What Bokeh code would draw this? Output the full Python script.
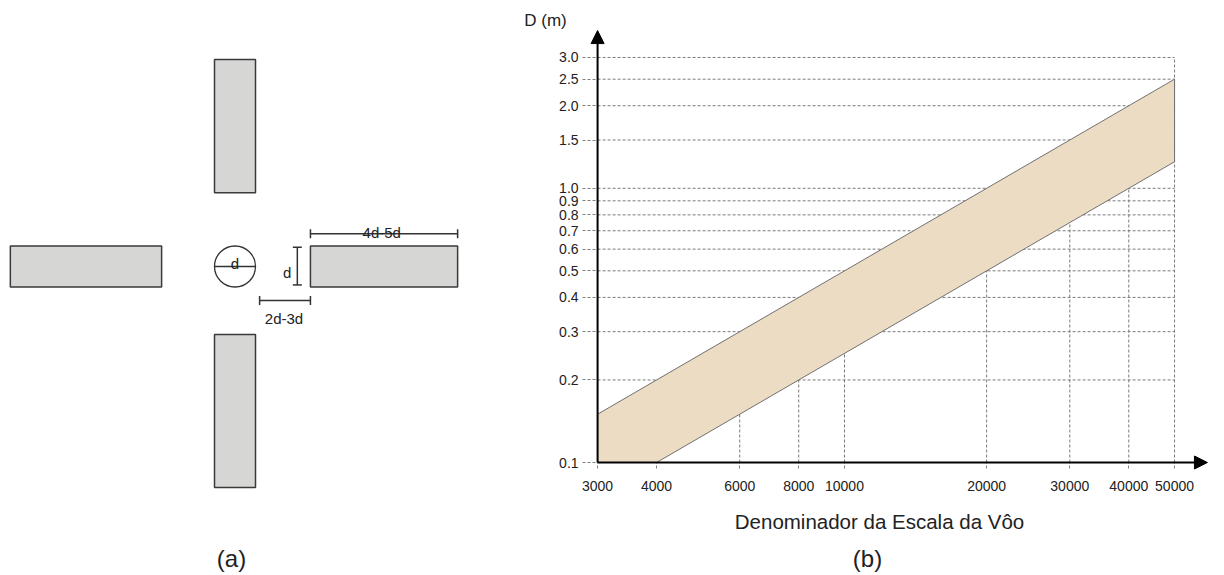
import math
from bokeh.plotting import figure
from bokeh.layouts import row
from bokeh.models import (Range1d, FixedTicker, PrintfTickFormatter, Label,
                          Arrow, NormalHead, LogAxis)
from bokeh.core.properties import value
from bokeh.embed import file_html
from bokeh.resources import INLINE

FONT = "Liberation Sans"

# ---------------- Panel (a): target layout, in units of the target diameter d
target_x = [0.0]
target_y = [0.0]
target_radius = 0.5
rect_left = [-0.50, -0.50, -5.48, 1.84]
rect_right = [0.50, 0.50, -1.79, 5.43]
rect_bottom = [1.80, -5.39, -0.50, -0.50]
rect_top = [5.05, -1.66, 0.50, 0.50]

# diameter line inside the target
diam_x0, diam_y0, diam_x1, diam_y1 = [-0.5], [0.0], [0.5], [0.0]

# dimension lines (x0, y0, x1, y1)
dim_x0 = [1.52, 1.84, 0.60]
dim_y0 = [-0.45, 0.80, -0.83]
dim_x1 = [1.52, 5.43, 1.84]
dim_y1 = [0.47, 0.80, -0.83]
cap_half = 0.11

dim_text = ["d", "d", "4d-5d", "2d-3d"]
dim_text_x = [0.0, 1.27, 3.58, 1.195]
dim_text_y = [0.07, -0.14, 0.84, -1.27]

# ---------------- Panel (b): D (m) versus flight-scale denominator
x_ticks = [3000, 4000, 6000, 8000, 10000, 20000, 30000, 40000, 50000]
y_ticks = [0.1, 0.2, 0.3, 0.4, 0.5, 0.6, 0.7, 0.8, 0.9, 1.0, 1.5, 2.0, 2.5, 3.0]
upper_denom = [3000, 50000]
upper_D = [0.15, 2.5]
lower_denom = [4000, 50000]
lower_D = [0.10, 1.25]

x_title = "Denominador da Escala da Vôo"
y_title = "D (m)"


def loglog_interp(x, xs, ys):
    lx = [math.log10(v) for v in xs]
    ly = [math.log10(v) for v in ys]
    t = (math.log10(x) - lx[0]) / (lx[1] - lx[0])
    return 10 ** (ly[0] + t * (ly[1] - ly[0]))


H = 575

# ================= figure (a)
pa = figure(width=480, height=H, x_range=Range1d(-5.720, 5.988),
            y_range=Range1d(-7.537, 6.488), output_backend="svg",
            toolbar_location=None, min_border=0,
            x_axis_location=None, y_axis_location=None)
pa.grid.visible = False
pa.outline_line_color = None

pa.quad(left=rect_left, right=rect_right, bottom=rect_bottom, top=rect_top,
        fill_color="#D6D7D5", line_color="#3a3a3a", line_width=1.5)
pa.circle(x=target_x, y=target_y, radius=target_radius, fill_color="white",
          line_color="#333333", line_width=1.3)
pa.segment(x0=diam_x0, y0=diam_y0, x1=diam_x1, y1=diam_y1,
           line_color="#333333", line_width=1.3)
pa.segment(x0=dim_x0, y0=dim_y0, x1=dim_x1, y1=dim_y1,
           line_color="#333333", line_width=1.5)

cx0, cy0, cx1, cy1 = [], [], [], []
for x0, y0, x1, y1 in zip(dim_x0, dim_y0, dim_x1, dim_y1):
    vertical = (x0 == x1)
    for (px, py) in ((x0, y0), (x1, y1)):
        if vertical:
            cx0.append(px - cap_half); cx1.append(px + cap_half)
            cy0.append(py); cy1.append(py)
        else:
            cx0.append(px); cx1.append(px)
            cy0.append(py - cap_half); cy1.append(py + cap_half)
pa.segment(x0=cx0, y0=cy0, x1=cx1, y1=cy1, line_color="#333333", line_width=1.5)

pa.text(x=dim_text_x, y=dim_text_y, text=dim_text, text_font=value(FONT),
        text_font_size="15px", text_color="#222222", text_align="center",
        text_baseline="alphabetic")
pa.text(x=[-0.085], y=[-7.12], text=["(a)"], text_font=value(FONT),
        text_font_size="24px", text_color="#222222", text_align="center",
        text_baseline="middle")

# ================= figure (b)
pb = figure(width=744, height=H, x_axis_type="log", y_axis_type="log",
            x_range=Range1d(1695, 63790), y_range=Range1d(0.03872, 4.84),
            output_backend="svg", toolbar_location=None, min_border=0,
            x_axis_location=None, y_axis_location=None)
pb.grid.visible = False
pb.outline_line_color = None

xaxis = LogAxis(fixed_location=y_ticks[0], ticker=FixedTicker(ticks=x_ticks),
                formatter=PrintfTickFormatter(format="%d"))
yaxis = LogAxis(fixed_location=x_ticks[0], ticker=FixedTicker(ticks=y_ticks),
                formatter=PrintfTickFormatter(format="%.1f"))
for ax in (xaxis, yaxis):
    ax.axis_line_color = None
    ax.major_tick_line_color = "#808080"
    ax.major_tick_line_dash = "3 2"
    ax.major_tick_in = 0
    ax.minor_tick_line_color = None
    ax.major_label_text_font = FONT
    ax.major_label_text_font_size = "14px"
    ax.major_label_text_color = "#222222"
xaxis.major_tick_out = 6
xaxis.major_label_standoff = 12
yaxis.major_tick_out = 15
yaxis.major_label_standoff = 4
pb.add_layout(xaxis, "below")
pb.add_layout(yaxis, "left")

# grid lines (dashed)
hx0, hy0, hx1, hy1 = [], [], [], []
for yt in y_ticks[1:]:
    hx0.append(x_ticks[0]); hx1.append(x_ticks[-1])
    hy0.append(yt); hy1.append(yt)
vx0, vy0, vx1, vy1 = [], [], [], []
for xt in x_ticks[1:]:
    if xt == x_ticks[-1]:
        top = y_ticks[-1]
    else:
        top = math.sqrt(loglog_interp(xt, lower_denom, lower_D) *
                        loglog_interp(xt, upper_denom, upper_D))
    vx0.append(xt); vx1.append(xt); vy0.append(y_ticks[0]); vy1.append(top)
pb.segment(x0=hx0 + vx0, y0=hy0 + vy0, x1=hx1 + vx1, y1=hy1 + vy1,
           line_color="#7a7a7a", line_dash="3 2", line_width=1)

# band
band_x = [upper_denom[0]] + upper_denom + lower_denom[::-1]
band_y = [y_ticks[0]] + upper_D + lower_D[::-1]
pb.patch(x=band_x, y=band_y, fill_color="#EDDCC4", line_color="#707070",
         line_width=1)

# axes drawn as arrows
y_tip = 3.76
x_tip = 58700
pb.add_layout(Arrow(end=NormalHead(size=13, fill_color="black", line_color="black"),
                    x_start=x_ticks[0], y_start=y_ticks[0], x_end=x_ticks[0], y_end=y_tip,
                    line_color="black", line_width=2))
pb.add_layout(Arrow(end=NormalHead(size=13, fill_color="black", line_color="black"),
                    x_start=x_ticks[0], y_start=y_ticks[0], x_end=x_tip, y_end=y_ticks[0],
                    line_color="black", line_width=2))

pb.add_layout(Label(x=399, y=54, x_units="screen", y_units="screen", text=x_title,
                    text_font=FONT, text_font_size="20.5px", text_color="#222222",
                    text_align="center", text_baseline="middle"))
pb.add_layout(Label(x=65, y=555, x_units="screen", y_units="screen", text=y_title,
                    text_font=FONT, text_font_size="17px", text_color="#222222",
                    text_align="center", text_baseline="middle"))
pb.add_layout(Label(x=387, y=17, x_units="screen", y_units="screen", text="(b)",
                    text_font=FONT, text_font_size="24px", text_color="#222222",
                    text_align="center", text_baseline="middle"))

layout = row(pa, pb)
open("out.html", "w").write(file_html(layout, INLINE))
